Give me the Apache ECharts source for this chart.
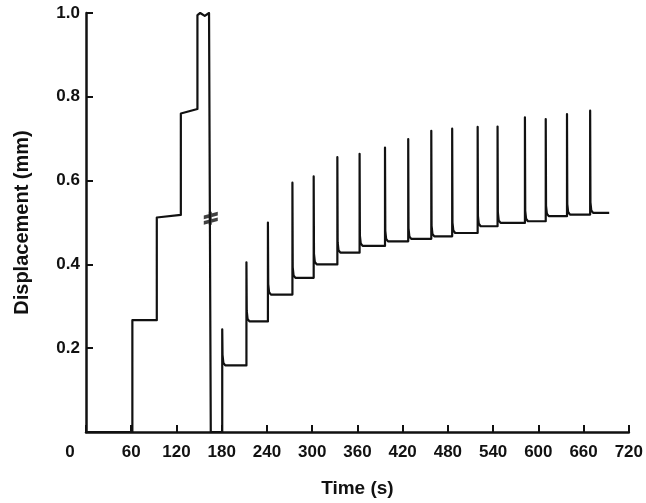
<!DOCTYPE html>
<html>
<head>
<meta charset="utf-8">
<script src="https://cdn.jsdelivr.net/npm/echarts@6/dist/echarts.min.js"></script>
<style>
html,body{margin:0;padding:0;background:#fff;}
#chart{width:646px;height:503px;}
</style>
</head>
<body>
<div id="chart"></div>
<script>
// ---- Data ----
// X tick labels (s) and Y tick labels (mm)
const xTicks = [0, 60, 120, 180, 240, 300, 360, 420, 480, 540, 600, 660, 720];
const yTicks = [0.2, 0.4, 0.6, 0.8, 1.0];

// First (step-loading) trace: time and displacement
const loadT = [0, 61.5, 61.5, 93.9, 93.9, 125.8, 125.8, 147.8, 147.8, 151.5, 157.5, 163.2, 165.5, 165.5];
const loadY = [0, 0, 0.267, 0.267, 0.512, 0.518, 0.760, 0.771, 0.995, 1.0, 0.993, 1.0, 0.998, 0];

// Second (cyclic) trace: time of each load pulse, peak displacement and settled level
const cycleTime  = [180.7, 212.8, 241.3, 273.8, 302.0, 333.4, 362.9, 396.6, 427.4, 458.0, 485.7, 519.5, 545.9, 582.2, 609.8, 638.0, 668.7];
const cyclePeak  = [0.245, 0.405, 0.500, 0.595, 0.610, 0.656, 0.664, 0.679, 0.699, 0.719, 0.724, 0.728, 0.729, 0.751, 0.747, 0.759, 0.767];
const cycleLevel = [0.159, 0.264, 0.328, 0.368, 0.400, 0.428, 0.444, 0.455, 0.461, 0.467, 0.475, 0.491, 0.499, 0.503, 0.515, 0.519, 0.523];
const traceEnd = 694;

// Break mark position on the unloading line
const breakT = [165.5];
const breakY = [0.51];

// ---- Build the trace ----
const trace = [];
for (let i = 0; i < loadT.length; i++) trace.push([loadT[i], loadY[i]]);
let prev = 0;
for (let i = 0; i < cycleTime.length; i++) {
  const t = cycleTime[i];
  const next = i + 1 < cycleTime.length ? cycleTime[i + 1] : traceEnd;
  trace.push([t, prev]);
  trace.push([t, cyclePeak[i]]);
  trace.push([t + 0.4, cycleLevel[i] + 0.025]);
  trace.push([t + 1.5, cycleLevel[i] + 0.006]);
  trace.push([t + 4, cycleLevel[i]]);
  trace.push([next, cycleLevel[i]]);
  prev = cycleLevel[i];
}
const breakData = breakT.map((t, i) => [t, breakY[i]]);

const FONT = '"Liberation Sans", Arial, sans-serif';
const INK = '#111';

const chart = echarts.init(document.getElementById('chart'), null, {renderer: 'canvas'});
chart.setOption({
  backgroundColor: '#ffffff',
  animation: false,
  grid: {left: 86, right: 13, top: 13, bottom: 71, containLabel: false},
  xAxis: {
    type: 'value',
    min: 0, max: 720, interval: 60,
    name: 'Time (s)',
    nameLocation: 'middle',
    nameGap: 47,
    nameTextStyle: {color: INK, fontFamily: FONT, fontWeight: 'bold', fontSize: 19},
    axisLine: {show: true, lineStyle: {color: INK, width: 2.5}},
    axisTick: {show: true, inside: true, length: 7, lineStyle: {color: INK, width: 2}},
    splitLine: {show: false},
    axisLabel: {
      color: INK, fontFamily: FONT, fontWeight: 'bold', fontSize: 17, margin: 12,
      formatter: function (v) {
        if (v === 0) return '{z|' + xTicks[0] + '}';
        return xTicks.indexOf(v) >= 0 ? String(v) : '';
      },
      rich: {z: {color: INK, fontFamily: FONT, fontWeight: 'bold', fontSize: 17, padding: [0, 32, 0, 0]}}
    }
  },
  yAxis: {
    type: 'value',
    min: 0, max: 1.0, interval: 0.2,
    name: 'Displacement (mm)',
    nameLocation: 'middle',
    nameGap: 54,
    nameRotate: 90,
    nameTextStyle: {color: INK, fontFamily: FONT, fontWeight: 'bold', fontSize: 20},
    axisLine: {show: true, lineStyle: {color: INK, width: 2.5}},
    axisTick: {show: true, inside: true, length: 7, lineStyle: {color: INK, width: 2}},
    splitLine: {show: false},
    axisLabel: {
      color: INK, fontFamily: FONT, fontWeight: 'bold', fontSize: 17, margin: 6,
      formatter: function (v) {
        const hit = yTicks.find(y => Math.abs(y - v) < 1e-6);
        return hit === undefined ? '' : hit.toFixed(1);
      }
    }
  },
  series: [
    {
      type: 'line',
      data: trace,
      showSymbol: false,
      symbol: 'none',
      lineStyle: {color: INK, width: 2.2, join: 'round'},
      z: 3
    },
    {
      type: 'scatter',
      data: breakData,
      symbol: 'path://M0,4 L14,0 L14,4 L0,8 Z M0,10 L14,6 L14,10 L0,14 Z M5,0 L8,0 L8,14 L5,14 Z',
      symbolSize: [14, 13],
      itemStyle: {color: INK},
      z: 4
    }
  ]
});
</script>
</body>
</html>
